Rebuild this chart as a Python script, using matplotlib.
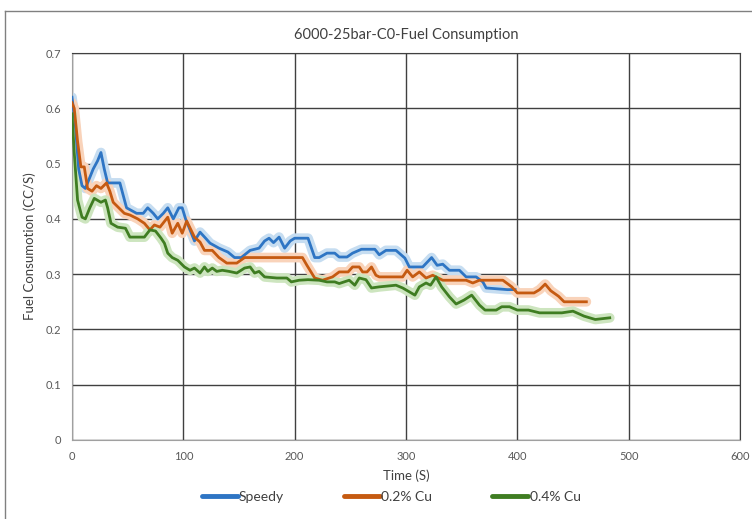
"""Recreate the 6000-25bar-C0 fuel consumption chart."""
import matplotlib
matplotlib.use("Agg")
import matplotlib.pyplot as plt
from matplotlib.lines import Line2D

plt.rcParams['font.family'] = ['Lato', 'DejaVu Sans']

# Speedy
speedy_t = [0, 3, 6, 9, 12, 15, 19, 23, 26, 29, 32, 43, 49, 58, 64, 68, 73, 77, 82, 86,
            91, 96, 99, 102, 106, 110, 115, 120, 124, 132, 140, 146, 152, 160, 168, 173, 177, 181, 186, 191,
            196, 200, 212, 218, 222, 229, 236, 240, 247, 252, 260, 267, 272, 276, 282, 291, 299, 303, 315, 323,
            328, 333, 339, 348, 354, 363, 369, 372, 391, 398]
speedy_fc = [0.62, 0.57, 0.49, 0.46, 0.455, 0.47, 0.49, 0.505, 0.52, 0.49,
             0.465, 0.465, 0.42, 0.41, 0.41, 0.42, 0.41, 0.40, 0.41, 0.42,
             0.40, 0.42, 0.42, 0.40, 0.38, 0.36, 0.376, 0.365, 0.356, 0.347,
             0.34, 0.33, 0.33, 0.343, 0.347, 0.36, 0.365, 0.357, 0.367, 0.347,
             0.36, 0.365, 0.365, 0.33, 0.33, 0.338, 0.338, 0.331, 0.331, 0.338,
             0.345, 0.345, 0.345, 0.335, 0.343, 0.343, 0.329, 0.313, 0.313, 0.33,
             0.316, 0.318, 0.307, 0.307, 0.295, 0.295, 0.286, 0.275, 0.272, 0.272]

# 0.2% Cu
cu02_t = [0, 2, 5, 8, 11, 14, 18, 22, 26, 31, 34, 37, 42, 47, 52, 59, 65, 70, 74, 79,
          86, 90, 95, 99, 103, 110, 115, 119, 126, 132, 139, 148, 155, 207, 211, 218, 225, 234, 240, 248,
          252, 258, 261, 265, 269, 273, 276, 297, 301, 306, 312, 318, 324, 333, 354, 360, 366, 387, 395, 400,
          415, 420, 425, 430, 437, 442, 462]
cu02_fc = [0.61, 0.60, 0.54, 0.494, 0.494, 0.455, 0.45, 0.46, 0.455, 0.465,
           0.45, 0.43, 0.42, 0.41, 0.407, 0.40, 0.392, 0.38, 0.389, 0.385,
           0.403, 0.374, 0.392, 0.374, 0.396, 0.367, 0.358, 0.343, 0.343, 0.33,
           0.32, 0.32, 0.33, 0.33, 0.316, 0.293, 0.289, 0.295, 0.304, 0.304,
           0.313, 0.313, 0.304, 0.304, 0.313, 0.298, 0.295, 0.295, 0.307, 0.295,
           0.304, 0.293, 0.298, 0.289, 0.289, 0.284, 0.289, 0.289, 0.277, 0.266,
           0.266, 0.272, 0.282, 0.27, 0.26, 0.25, 0.25]

# 0.4% Cu
cu04_t = [0, 2, 5, 9, 12, 16, 20, 26, 30, 32, 35, 41, 48, 52, 65, 70, 75, 80, 83, 86,
          90, 95, 101, 106, 110, 115, 119, 122, 126, 130, 135, 141, 148, 155, 160, 164, 168, 173, 184, 193,
          197, 204, 212, 222, 229, 236, 240, 249, 254, 258, 264, 269, 276, 291, 297, 303, 308, 312, 318, 322,
          327, 332, 339, 345, 352, 359, 366, 371, 381, 386, 393, 400, 410, 420, 440, 450, 460, 470, 483]
cu04_fc = [0.59, 0.52, 0.434, 0.403, 0.40, 0.42, 0.437, 0.43, 0.434, 0.42,
           0.392, 0.385, 0.383, 0.367, 0.367, 0.38, 0.378, 0.365, 0.356, 0.338,
           0.33, 0.325, 0.313, 0.307, 0.311, 0.302, 0.313, 0.305, 0.311, 0.305,
           0.307, 0.305, 0.302, 0.311, 0.313, 0.302, 0.305, 0.295, 0.293, 0.293,
           0.286, 0.289, 0.29, 0.289, 0.286, 0.286, 0.283, 0.289, 0.28, 0.293,
           0.29, 0.275, 0.277, 0.28, 0.275, 0.268, 0.262, 0.277, 0.284, 0.28,
           0.295, 0.277, 0.259, 0.246, 0.253, 0.262, 0.244, 0.235, 0.235, 0.241,
           0.241, 0.235, 0.235, 0.23, 0.23, 0.233, 0.224, 0.218, 0.221]

series = [
    ("Speedy", speedy_t, speedy_fc, "#2e75c4", "#c6ddf1"),
    ("0.2% Cu", cu02_t, cu02_fc, "#c55a11", "#f9d3ba"),
    ("0.4% Cu", cu04_t, cu04_fc, "#3f7d22", "#cde5bf"),
]

fig = plt.figure(figsize=(7.52, 5.19), dpi=100)
ax = fig.add_axes([72 / 752, 1 - 440 / 519, 668 / 752, 387 / 519])

# glow bands first, then the lines on top
for name, t, fc, col, glow in series:
    ax.plot(t, fc, color=glow, lw=7, solid_capstyle='round', solid_joinstyle='round', zorder=2)
for name, t, fc, col, glow in series:
    ax.plot(t, fc, color=col, lw=2, solid_joinstyle='round', zorder=3)

ax.set_xlim(0, 600)
ax.set_ylim(0, 0.7)
ax.set_xticks([0, 100, 200, 300, 400, 500, 600])
ax.set_yticks([0, 0.1, 0.2, 0.3, 0.4, 0.5, 0.6, 0.7])
ax.set_yticklabels(["0", "0.1", "0.2", "0.3", "0.4", "0.5", "0.6", "0.7"])
ax.tick_params(length=0, labelsize=8, labelcolor='#595959', pad=8)
ax.grid(True, color='#404040', lw=1.0, zorder=1)
ax.set_axisbelow(True)
for side in ['top', 'right']:
    ax.spines[side].set_color('#404040')
for side in ['left', 'bottom']:
    ax.spines[side].set_color('#a0a0a0')

ax.set_title("6000-25bar-C0-Fuel Consumption", fontsize=10.5, color='#404040', pad=10)
ax.set_xlabel("Time (S)", fontsize=9.5, color='#404040', labelpad=5)
ax.set_ylabel("Fuel Consumotion (CC/S)", fontsize=9.5, color='#404040', labelpad=7)

handles = [Line2D([0], [0], color=c, lw=3.5, solid_capstyle='round') for _, _, _, c, _ in series]
fig.legend(handles, [s[0] for s in series], loc='center', bbox_to_anchor=(0.52, 0.042),
           ncol=3, frameon=False, fontsize=10, handlelength=2.6, handletextpad=0.1,
           columnspacing=4.3, labelcolor='#404040')

# outer chart-area border (left and top edges visible)
fig.add_artist(Line2D([5 / 752, 5 / 752], [0, 1 - 11 / 519], color='#808080', lw=1))
fig.add_artist(Line2D([5 / 752, 1], [1 - 11 / 519, 1 - 11 / 519], color='#808080', lw=1))

fig.savefig("out.png", dpi=100)
